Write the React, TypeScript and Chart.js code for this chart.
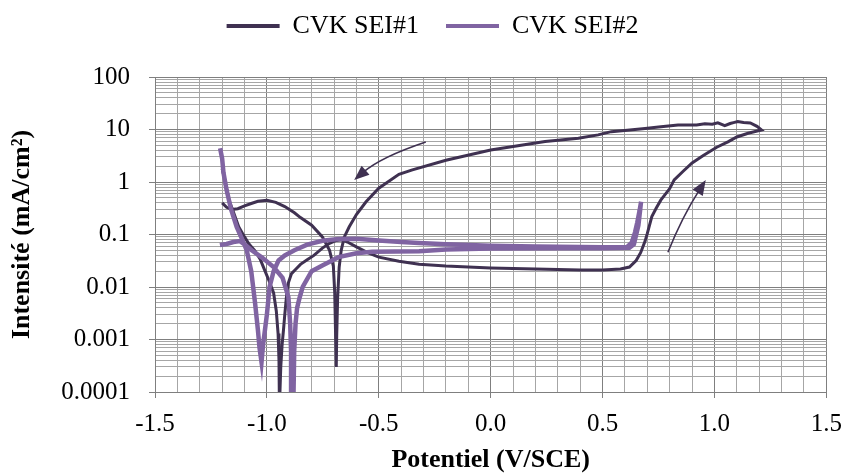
import React, { useEffect, useRef } from 'react';
import { Chart, registerables } from 'chart.js';

Chart.register(...registerables);

// ---------- data ----------
const seriesNames = ['CVK SEI#1', 'CVK SEI#2'];
const seriesColors = ['#3f3151', '#8064a2'];

// CVK SEI#1 : forward scan -1.2 -> 1.21 V, then reverse scan back to -1.2 V
const sei1Potential = [
  -1.2, -1.19, -1.17, -1.15, -1.126, -1.1, -1.08, -1.055, -1.03, -1.01, -0.99, -0.97, -0.958, -0.95, -0.946, -0.944,
  -0.938, -0.932, -0.926, -0.92, -0.912, -0.904, -0.89, -0.87, -0.85, -0.82, -0.79, -0.752, -0.72, -0.69, -0.663,
  -0.64, -0.6, -0.55, -0.5, -0.41, -0.32, -0.2, 0, 0.2, 0.4, 0.5, 0.58, 0.62, 0.65, 0.67, 0.69, 0.7, 0.72, 0.74,
  0.76, 0.8, 0.82, 0.86, 0.9, 0.95, 1.01, 1.06, 1.1, 1.15, 1.21,
  1.19, 1.16, 1.13, 1.104, 1.085, 1.07, 1.046, 1.015, 0.99, 0.957, 0.92, 0.837, 0.75, 0.69, 0.61, 0.539, 0.48, 0.392,
  0.243, 0, -0.2, -0.35, -0.41, -0.5, -0.557, -0.6, -0.632, -0.654, -0.668, -0.677, -0.684, -0.688, -0.69, -0.693,
  -0.697, -0.703, -0.72, -0.752, -0.8, -0.85, -0.877, -0.92, -0.96, -1.0, -1.04, -1.07, -1.1, -1.13, -1.157, -1.18,
  -1.2,
];
const sei1Current = [
  1.8, 1.2, 0.46, 0.27, 0.14, 0.09, 0.066, 0.05, 0.034, 0.021, 0.013, 0.0077, 0.0035, 0.0013, 0.0004, 0.00005,
  0.0003, 0.0008, 0.0015, 0.003, 0.007, 0.012, 0.018, 0.022, 0.027, 0.033, 0.04, 0.055, 0.068, 0.077, 0.079,
  0.072, 0.058, 0.045, 0.037, 0.031, 0.027, 0.025, 0.023, 0.022, 0.021, 0.021, 0.022, 0.024, 0.032, 0.045, 0.075,
  0.105, 0.22, 0.32, 0.45, 0.75, 1.1, 1.6, 2.3, 3.2, 4.6, 5.8, 7.2, 8.5, 9.8,
  11.5, 13.3, 13.6, 14.2, 13.5, 13, 11.8, 13.4, 12.6, 12.9, 12.2, 12.2, 11.2, 10.5, 9.7, 9.1, 7.9, 6.8,
  5.9, 4.07, 2.6, 1.7, 1.4, 0.76, 0.42, 0.24, 0.14, 0.09, 0.05, 0.024, 0.006, 0.0012, 0.0003, 0.0012,
  0.008, 0.025, 0.05, 0.09, 0.15, 0.21, 0.26, 0.34, 0.41, 0.45, 0.43, 0.39, 0.35, 0.31, 0.3, 0.33,
  0.4,
];

// CVK SEI#2 : forward scan -1.21 -> 0.672 V, then reverse scan back to -1.21 V
const sei2Potential = [
  -1.209, -1.2, -1.194, -1.18, -1.16, -1.135, -1.11, -1.09, -1.07, -1.053, -1.04, -1.033, -1.024, -1.017, -1.008,
  -1.0, -0.988, -0.97, -0.948, -0.92, -0.877, -0.82, -0.752, -0.68, -0.6, -0.5, -0.4, -0.32, -0.2, 0, 0.2, 0.4, 0.5,
  0.58, 0.61, 0.63, 0.645, 0.655, 0.665, 0.672,
  0.66, 0.64, 0.62, 0.5, 0.3, 0, -0.2, -0.32, -0.53, -0.6, -0.68, -0.75, -0.8, -0.84, -0.855, -0.865, -0.872,
  -0.878, -0.882, -0.888, -0.892, -0.896, -0.904, -0.93, -0.97, -1.02, -1.068, -1.1, -1.12, -1.15, -1.18, -1.21,
];
const sei2Current = [
  4.4, 2.8, 1.5, 0.7, 0.3, 0.14, 0.08, 0.05, 0.02, 0.005, 0.0015, 0.0007, 0.00037, 0.0008, 0.0016,
  0.003, 0.01, 0.02, 0.032, 0.04, 0.05, 0.064, 0.076, 0.082, 0.083, 0.077, 0.072, 0.069, 0.065, 0.061, 0.059, 0.058,
  0.057, 0.057, 0.058, 0.07, 0.11, 0.17, 0.28, 0.42,
  0.15, 0.065, 0.056, 0.055, 0.055, 0.054, 0.052, 0.048, 0.047, 0.044, 0.037, 0.026, 0.02, 0.01, 0.006, 0.004,
  0.002, 0.0006, 0.00005, 0.00005, 0.0006, 0.002, 0.0065, 0.015, 0.024, 0.036, 0.05, 0.065, 0.075, 0.072, 0.066,
  0.063,
];

const xTickLabels = ['-1.5', '-1.0', '-0.5', '0.0', '0.5', '1.0', '1.5'];
const yTickLabels = ['0.0001', '0.001', '0.01', '0.1', '1', '10', '100'];
const xTitle = 'Potentiel (V/SCE)';
const yTitle = 'Intensité (mA/cm²)';

// scan-direction arrows (data units): tail, a point on the curve, tip
const arrowTailX = [-0.29, 0.792];
const arrowTailY = [5.8, 0.046];
const arrowViaX = [-0.47, 0.866];
const arrowViaY = [2.75, 0.22];
const arrowTipX = [-0.61, 0.961];
const arrowTipY = [1.09, 1.09];

// ---------- helpers ----------
const zip = (xs: number[], ys: number[]) => xs.map((x, i) => ({ x, y: ys[i] }));
const isDecade = (v: number) => Math.abs(Math.log10(v) - Math.round(Math.log10(v))) < 1e-6;
const isHalf = (v: number) => Math.abs(v * 2 - Math.round(v * 2)) < 1e-6;
const FONT = '"Liberation Serif", "Times New Roman", serif';

const arrowPlugin = {
  id: 'scanArrows',
  afterDatasetsDraw(chart: any) {
    const { ctx, scales } = chart;
    const xs = scales.x;
    const ys = scales.y;
    ctx.save();
    ctx.strokeStyle = seriesColors[0];
    ctx.fillStyle = seriesColors[0];
    ctx.lineWidth = 1.6;
    for (let i = 0; i < arrowTailX.length; i++) {
      const p0 = { x: xs.getPixelForValue(arrowTailX[i]), y: ys.getPixelForValue(arrowTailY[i]) };
      const m = { x: xs.getPixelForValue(arrowViaX[i]), y: ys.getPixelForValue(arrowViaY[i]) };
      const p2 = { x: xs.getPixelForValue(arrowTipX[i]), y: ys.getPixelForValue(arrowTipY[i]) };
      const c = { x: 2 * m.x - (p0.x + p2.x) / 2, y: 2 * m.y - (p0.y + p2.y) / 2 };
      const ang = Math.atan2(p2.y - c.y, p2.x - c.x);
      const headLen = 15;
      const headHalf = 6;
      const bx = p2.x - headLen * Math.cos(ang);
      const by = p2.y - headLen * Math.sin(ang);
      ctx.beginPath();
      ctx.moveTo(p0.x, p0.y);
      ctx.quadraticCurveTo(c.x, c.y, bx + 3 * Math.cos(ang), by + 3 * Math.sin(ang));
      ctx.stroke();
      ctx.beginPath();
      ctx.moveTo(p2.x, p2.y);
      ctx.lineTo(bx + headHalf * Math.sin(ang), by - headHalf * Math.cos(ang));
      ctx.lineTo(bx - headHalf * Math.sin(ang), by + headHalf * Math.cos(ang));
      ctx.closePath();
      ctx.fill();
    }
    ctx.restore();
  },
};

// gives the legend extra room below it and nudges it to the right, as in the original layout
const legendSpacer = {
  id: 'legendSpacer',
  beforeLayout(chart: any) {
    const lg = chart.legend;
    if (lg && !lg.__patched) {
      const orig = lg.fit;
      lg.fit = function () {
        orig.call(this);
        this.height = 91;
      };
      lg.__patched = true;
    }
  },
  afterLayout(chart: any) {
    const lg = chart.legend;
    if (lg) {
      lg.left += 18;
      lg.right += 18;
    }
  },
};

export default function App() {
  const canvasRef = useRef<HTMLCanvasElement | null>(null);

  useEffect(() => {
    if (!canvasRef.current) return;
    const chart = new Chart(canvasRef.current, {
      type: 'scatter',
      data: {
        datasets: [
          {
            label: seriesNames[0],
            data: zip(sei1Potential, sei1Current),
            showLine: true,
            borderColor: seriesColors[0],
            backgroundColor: seriesColors[0],
            borderWidth: 3,
            pointRadius: 0,
            pointHoverRadius: 0,
            tension: 0,
            order: 1,
          },
          {
            label: seriesNames[1],
            data: zip(sei2Potential, sei2Current),
            showLine: true,
            borderColor: seriesColors[1],
            backgroundColor: seriesColors[1],
            borderWidth: 4.5,
            pointRadius: 0,
            pointHoverRadius: 0,
            tension: 0,
            order: 0,
          },
        ],
      },
      options: {
        animation: false,
        responsive: true,
        maintainAspectRatio: false,
        layout: { padding: { top: -14, right: 24, bottom: 0, left: 0 } },
        plugins: {
          tooltip: { enabled: false },
          legend: {
            position: 'top',
            labels: {
              usePointStyle: true,
              pointStyle: 'line',
              pointStyleWidth: 53,
              padding: 27,
              color: '#000',
              font: { family: FONT, size: 26 },
              generateLabels: (c: any) => {
                const items = Chart.defaults.plugins.legend.labels.generateLabels(c);
                items.sort((a: any, b: any) => a.datasetIndex - b.datasetIndex);
                items.forEach((it: any) => {
                  it.lineWidth = 4;
                  it.pointStyle = 'line';
                  it.strokeStyle = seriesColors[it.datasetIndex];
                });
                return items;
              },
            },
          },
        },
        scales: {
          x: {
            type: 'linear',
            min: -1.5,
            max: 1.5,
            afterBuildTicks: (scale: any) => {
              const t = [];
              for (let i = -15; i <= 15; i++) t.push({ value: i / 10 });
              scale.ticks = t;
            },
            afterFit: (scale: any) => {
              scale.height = 81;
            },
            ticks: {
              autoSkip: false,
              maxRotation: 0,
              padding: 11,
              color: '#000',
              font: { family: FONT, size: 25 },
              callback: (v: any) => {
                const val = Number(v);
                if (!isHalf(val)) return '';
                return xTickLabels.find((l) => Math.abs(parseFloat(l) - val) < 1e-6) ?? '';
              },
            },
            grid: {
              color: (ctx: any) => (ctx.tick && isHalf(ctx.tick.value) ? '#7f7f7f' : '#a6a6a6'),
              tickColor: (ctx: any) => (ctx.tick && isHalf(ctx.tick.value) ? '#7f7f7f' : 'rgba(0,0,0,0)'),
              tickLength: 6,
              lineWidth: 1,
            },
            border: { display: true, color: '#7f7f7f', width: 1 },
            title: {
              display: true,
              text: xTitle,
              color: '#000',
              font: { family: FONT, size: 26, weight: 'bold' },
              padding: { top: 0, bottom: -3 },
            },
          },
          y: {
            type: 'logarithmic',
            min: 0.0001,
            max: 100,
            afterBuildTicks: (scale: any) => {
              const t = [];
              for (let e = -4; e <= 2; e++) {
                for (let m = 1; m <= 9; m++) {
                  const v = Number((m * Math.pow(10, e)).toPrecision(6));
                  if (v > 100.0001) break;
                  t.push({ value: v });
                }
              }
              scale.ticks = t;
            },
            afterFit: (scale: any) => {
              scale.width = 155;
            },
            ticks: {
              autoSkip: false,
              padding: 19,
              color: '#000',
              font: { family: FONT, size: 25 },
              callback: (v: any) => {
                const val = Number(v);
                if (!isDecade(val)) return '';
                return yTickLabels.find((l) => Math.abs(parseFloat(l) - val) / val < 1e-6) ?? '';
              },
            },
            grid: {
              color: (ctx: any) => (ctx.tick && isDecade(ctx.tick.value) ? '#7f7f7f' : '#a6a6a6'),
              tickColor: (ctx: any) => (ctx.tick && isDecade(ctx.tick.value) ? '#7f7f7f' : 'rgba(0,0,0,0)'),
              tickLength: 6,
              lineWidth: 1,
            },
            border: { display: true, color: '#7f7f7f', width: 1 },
            title: {
              display: true,
              text: yTitle,
              color: '#000',
              font: { family: FONT, size: 26, weight: 'bold' },
              padding: { top: 7, bottom: 0 },
            },
          },
        },
      },
      plugins: [arrowPlugin, legendSpacer],
    } as any);
    return () => chart.destroy();
  }, []);

  return (
    <div style={{ position: 'fixed', left: 0, top: 0, width: 853, height: 473, background: '#fff' }}>
      <canvas ref={canvasRef} />
    </div>
  );
}
